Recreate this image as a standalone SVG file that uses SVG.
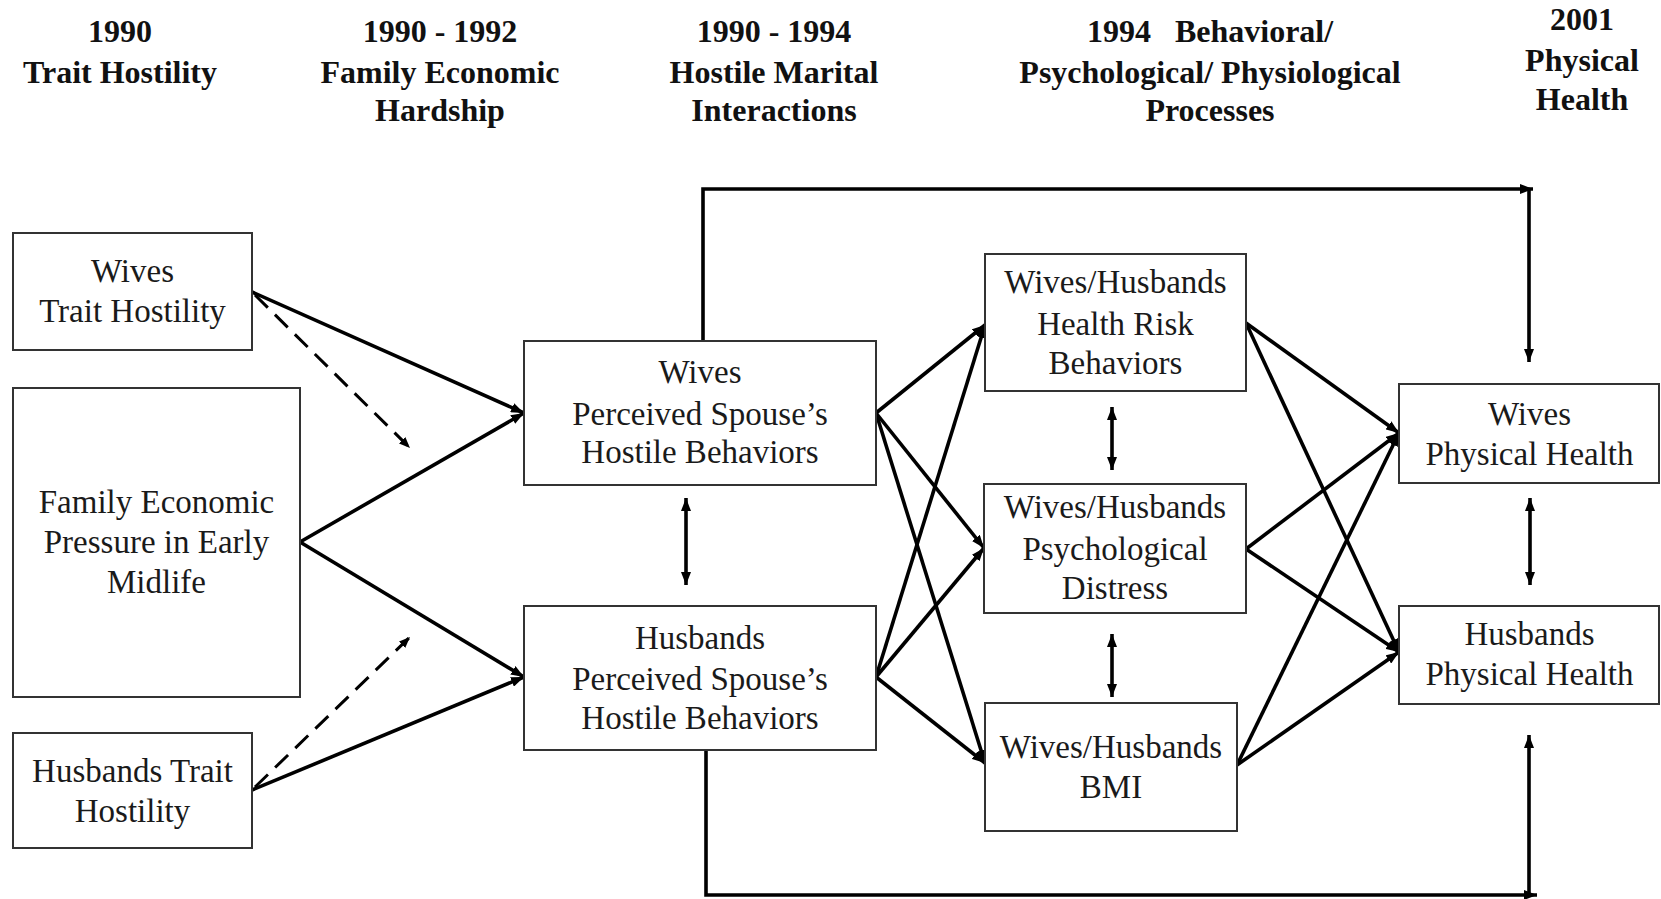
<svg xmlns="http://www.w3.org/2000/svg" width="1661" height="899" viewBox="0 0 1661 899">
  <style>
    .hdr { font-family: "Liberation Serif", "Times New Roman", serif; font-weight: bold; font-size: 32px; fill: #111; text-anchor: middle; white-space: pre; }
    .lbl { font-family: "Liberation Serif", "Times New Roman", serif; font-size: 33px; fill: #1a1a1a; text-anchor: middle; }
    .box { fill: #fff; stroke: #333; stroke-width: 2; }
    .edge { fill: none; stroke: #000; stroke-width: 3.6; marker-end: url(#arrow); }
    .dash { fill: none; stroke: #000; stroke-width: 3; stroke-dasharray: 18 10; marker-end: url(#arrowSmall); }
    .both { fill: none; stroke: #000; stroke-width: 3.6; marker-start: url(#arrow); marker-end: url(#arrow); }
  </style>
  <defs>
    <marker id="arrow" viewBox="0 0 13 10" refX="13" refY="5" markerWidth="13" markerHeight="10" markerUnits="userSpaceOnUse" orient="auto-start-reverse">
      <path d="M0,0 L13,5 L0,10 Z" fill="#000"/>
    </marker>
    <marker id="arrowSmall" viewBox="0 0 11 9" refX="11" refY="4.5" markerWidth="11" markerHeight="9" markerUnits="userSpaceOnUse" orient="auto">
      <path d="M0,0 L11,4.5 L0,9 Z" fill="#000"/>
    </marker>
  </defs>

  <rect width="1661" height="899" fill="#fff"/>

  <!-- time-period column headings -->
  <g id="headings">
    <text class="hdr" x="120" y="42">1990</text>
    <text class="hdr" x="120" y="83">Trait Hostility</text>
    <text class="hdr" x="440" y="42">1990 - 1992</text>
    <text class="hdr" x="440" y="83">Family Economic</text>
    <text class="hdr" x="440" y="121">Hardship</text>
    <text class="hdr" x="774" y="42">1990 - 1994</text>
    <text class="hdr" x="774" y="83">Hostile Marital</text>
    <text class="hdr" x="774" y="121">Interactions</text>
    <text class="hdr" x="1210" y="42">1994   Behavioral/</text>
    <text class="hdr" x="1210" y="83">Psychological/ Physiological</text>
    <text class="hdr" x="1210" y="121">Processes</text>
    <text class="hdr" x="1582" y="30">2001</text>
    <text class="hdr" x="1582" y="71">Physical</text>
    <text class="hdr" x="1582" y="110">Health</text>
  </g>

  <!-- connectors -->
  <g id="connectors">
    <!-- trait hostility and economic pressure to perceived hostility -->
    <line class="edge" x1="252" y1="292" x2="524" y2="413"/>
    <line class="edge" x1="300" y1="542" x2="524" y2="413"/>
    <line class="edge" x1="300" y1="542" x2="524" y2="677"/>
    <line class="edge" x1="252" y1="790" x2="524" y2="677"/>
    <line class="dash" x1="255" y1="295" x2="410" y2="448"/>
    <line class="dash" x1="255" y1="787" x2="410" y2="637"/>

    <!-- perceived hostility to processes -->
    <line class="edge" x1="876" y1="413" x2="985" y2="325"/>
    <line class="edge" x1="876" y1="413" x2="984" y2="548"/>
    <line class="edge" x1="876" y1="413" x2="985" y2="763"/>
    <line class="edge" x1="876" y1="677" x2="985" y2="325"/>
    <line class="edge" x1="876" y1="677" x2="984" y2="548"/>
    <line class="edge" x1="876" y1="677" x2="985" y2="763"/>

    <!-- processes to physical health -->
    <line class="edge" x1="1246" y1="323" x2="1399" y2="433"/>
    <line class="edge" x1="1246" y1="323" x2="1399" y2="652"/>
    <line class="edge" x1="1246" y1="549" x2="1399" y2="433"/>
    <line class="edge" x1="1246" y1="549" x2="1399" y2="652"/>
    <line class="edge" x1="1237" y1="765" x2="1399" y2="433"/>
    <line class="edge" x1="1237" y1="765" x2="1399" y2="652"/>

    <!-- correlations -->
    <line class="both" x1="686" y1="498" x2="686" y2="585"/>
    <line class="both" x1="1112" y1="407" x2="1112" y2="470"/>
    <line class="both" x1="1112" y1="634" x2="1112" y2="697"/>
    <line class="both" x1="1530" y1="498" x2="1530" y2="585"/>

    <!-- direct paths to physical health -->
    <polyline class="edge" points="703,341 703,189 1533,189"/>
    <line class="edge" x1="1529" y1="189" x2="1529" y2="362"/>
    <polyline class="edge" points="706,750 706,895 1537,895"/>
    <line class="edge" x1="1529" y1="895" x2="1529" y2="735"/>
  </g>

  <g id="wivesTrait">
    <rect class="box" x="13" y="233" width="239" height="117"/>
    <text class="lbl" x="132.5" y="282">Wives</text>
    <text class="lbl" x="132.5" y="322">Trait Hostility</text>
  </g>

  <g id="familyPressure">
    <rect class="box" x="13" y="388" width="287" height="309"/>
    <text class="lbl" x="156.5" y="513">Family Economic</text>
    <text class="lbl" x="156.5" y="553">Pressure in Early</text>
    <text class="lbl" x="156.5" y="593">Midlife</text>
  </g>

  <g id="husbandsTrait">
    <rect class="box" x="13" y="733" width="239" height="115"/>
    <text class="lbl" x="132.5" y="782">Husbands Trait</text>
    <text class="lbl" x="132.5" y="822">Hostility</text>
  </g>

  <g id="wivesPerceived">
    <rect class="box" x="524" y="341" width="352" height="144"/>
    <text class="lbl" x="700" y="383">Wives</text>
    <text class="lbl" x="700" y="425">Perceived Spouse’s</text>
    <text class="lbl" x="700" y="463">Hostile Behaviors</text>
  </g>

  <g id="husbandsPerceived">
    <rect class="box" x="524" y="606" width="352" height="144"/>
    <text class="lbl" x="700" y="649">Husbands</text>
    <text class="lbl" x="700" y="690">Perceived Spouse’s</text>
    <text class="lbl" x="700" y="729">Hostile Behaviors</text>
  </g>

  <g id="healthRisk">
    <rect class="box" x="985" y="254" width="261" height="137"/>
    <text class="lbl" x="1115.5" y="293">Wives/Husbands</text>
    <text class="lbl" x="1115.5" y="335">Health Risk</text>
    <text class="lbl" x="1115.5" y="374">Behaviors</text>
  </g>

  <g id="psychDistress">
    <rect class="box" x="984" y="484" width="262" height="129"/>
    <text class="lbl" x="1115" y="518">Wives/Husbands</text>
    <text class="lbl" x="1115" y="560">Psychological</text>
    <text class="lbl" x="1115" y="599">Distress</text>
  </g>

  <g id="bmi">
    <rect class="box" x="985" y="703" width="252" height="128"/>
    <text class="lbl" x="1111" y="758">Wives/Husbands</text>
    <text class="lbl" x="1111" y="798">BMI</text>
  </g>

  <g id="wivesHealth">
    <rect class="box" x="1399" y="384" width="260" height="99"/>
    <text class="lbl" x="1529.5" y="425">Wives</text>
    <text class="lbl" x="1529.5" y="465">Physical Health</text>
  </g>

  <g id="husbandsHealth">
    <rect class="box" x="1399" y="606" width="260" height="98"/>
    <text class="lbl" x="1529.5" y="645">Husbands</text>
    <text class="lbl" x="1529.5" y="685">Physical Health</text>
  </g>
</svg>
